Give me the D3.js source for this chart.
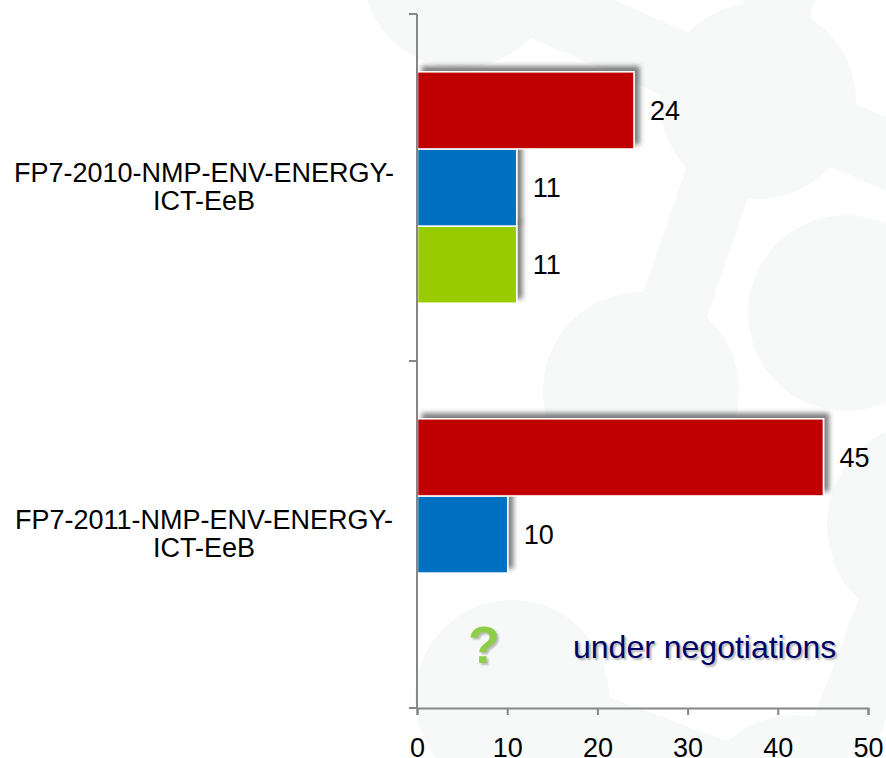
<!DOCTYPE html>
<meta charset="utf-8">
<script src="https://d3js.org/d3.v7.min.js"></script>
<style>
  html, body { margin: 0; padding: 0; background: #fff; }
  svg { display: block; }
  text { font-family: "Liberation Sans", Arial, sans-serif; fill: #000; }
  .tick line, .domain { stroke: #868686; }
</style>
<div id="my_dataviz"></div>
<script>

// dataset
var categories = ["FP7-2010-NMP-ENV-ENERGY-ICT-EeB", "FP7-2011-NMP-ENV-ENERGY-ICT-EeB"];
var categoryLines = [["FP7-2010-NMP-ENV-ENERGY-", "ICT-EeB"], ["FP7-2011-NMP-ENV-ENERGY-", "ICT-EeB"]];
var seriesKeys = ["first", "second", "third"];
var seriesColors = ["#c00000", "#0070c0", "#99cc00"];
var firstValues = [24, 45];
var secondValues = [11, 10];
var thirdValues = [11, null];   // 2011 is still under negotiations
var xTicks = [0, 10, 20, 30, 40, 50];

var width = 886, height = 758;
var margin = {top: 14, right: 17.5, bottom: 50, left: 417.5};

var svg = d3.select("#my_dataviz")
  .append("svg")
    .attr("width", width)
    .attr("height", height);

// faint molecule pattern behind the chart
var bg = svg.append("g");
var blobs = [[460, -30, 98], [758, 101, 98], [846, 313, 98], [641, 390, 98], [512, 697, 97], [930, 525, 103], [795, 815, 100]];
var links = [[460, -30, 758, 100], [758, 100, 920, 168], [646, 390, 790, -30], [512, 697, 795, 803], [923, 525, 813, 815]];
bg.selectAll("circle").data(blobs).enter().append("circle")
    .attr("cx", function(d) { return d[0]; })
    .attr("cy", function(d) { return d[1]; })
    .attr("r", function(d) { return d[2]; })
    .attr("fill", "#f7f9f9");
bg.selectAll("line").data(links).enter().append("line")
    .attr("x1", function(d) { return d[0]; })
    .attr("y1", function(d) { return d[1]; })
    .attr("x2", function(d) { return d[2]; })
    .attr("y2", function(d) { return d[3]; })
    .attr("stroke", "#f7f9f9")
    .attr("stroke-width", 68);

// bar shadow
var filter = svg.append("defs").append("filter")
    .attr("id", "barShadow")
    .attr("x", "-20%").attr("y", "-20%")
    .attr("width", "140%").attr("height", "140%");
filter.append("feDropShadow")
    .attr("dx", 5).attr("dy", -5)
    .attr("stdDeviation", 2.5)
    .attr("flood-color", "#000")
    .attr("flood-opacity", 0.5);

// scales
var x = d3.scaleLinear()
  .domain([0, 50])
  .range([margin.left, width - margin.right]);

var y0 = d3.scaleBand()
  .domain(categories)
  .range([margin.top, height - margin.bottom]);

var y1 = d3.scaleBand()
  .domain(seriesKeys)
  .range([0, y0.bandwidth()])
  .paddingOuter(0.75)
  .paddingInner(0);

// flatten the arrays for drawing
var rows = [];
categories.forEach(function(c, i) {
  rows.push({cat: c, key: "first", color: seriesColors[0], value: firstValues[i]});
  rows.push({cat: c, key: "second", color: seriesColors[1], value: secondValues[i]});
  rows.push({cat: c, key: "third", color: seriesColors[2], value: thirdValues[i]});
});
rows = rows.filter(function(d) { return d.value !== null; });

// bars, bottom one first so the shadow never falls on the bar above
svg.append("g").selectAll("rect")
  .data(rows.slice().reverse())
  .enter()
  .append("rect")
    .attr("x", x(0))
    .attr("y", function(d) { return y0(d.cat) + y1(d.key); })
    .attr("width", function(d) { return x(d.value) - x(0); })
    .attr("height", y1.bandwidth())
    .attr("fill", function(d) { return d.color; })
    .attr("stroke", "#fff")
    .attr("stroke-width", 1.5)
    .attr("filter", "url(#barShadow)");

// value labels
svg.append("g").selectAll("text")
  .data(rows)
  .enter()
  .append("text")
    .attr("x", function(d) { return x(d.value) + 16; })
    .attr("y", function(d) { return y0(d.cat) + y1(d.key) + y1.bandwidth() / 2; })
    .attr("dy", "0.35em")
    .style("font-size", "27px")
    .text(function(d) { return d.value; });

// X axis
var xAxis = svg.append("g")
  .attr("transform", "translate(-0.5," + (height - margin.bottom) + ")")
  .call(d3.axisBottom(x).tickValues(xTicks).tickSizeOuter(0).tickSize(7).tickPadding(23));
xAxis.selectAll("text").style("font-size", "27px");
xAxis.selectAll("line").attr("stroke-width", 2);
xAxis.select(".domain").attr("stroke-width", 2);

// Y axis, ticks sit between the categories
var yEdges = [margin.top, margin.top + y0.bandwidth(), height - margin.bottom];
var yAxisG = svg.append("g").attr("transform", "translate(" + (x(0) - 0.5) + ",0)");
yAxisG.append("line")
    .attr("class", "domain")
    .attr("y1", margin.top).attr("y2", height - margin.bottom)
    .attr("stroke-width", 2);
yAxisG.selectAll(".edge").data(yEdges).enter().append("line")
    .attr("class", "domain edge")
    .attr("x1", -8).attr("x2", 0)
    .attr("y1", function(d) { return d; })
    .attr("y2", function(d) { return d; })
    .attr("stroke-width", 2);

// category labels on two lines
var catLabels = svg.append("g").selectAll("text")
  .data(categories)
  .enter()
  .append("text")
    .attr("text-anchor", "middle")
    .style("font-size", "27px")
    .attr("y", function(d) { return y0(d) + y0.bandwidth() / 2 - 6; });
catLabels.selectAll("tspan")
  .data(function(d, i) { return categoryLines[i]; })
  .enter()
  .append("tspan")
    .attr("x", 204)
    .attr("dy", function(d, i) { return i ? "1.07em" : 0; })
    .text(function(d) { return d; });

// annotation for the empty slot
svg.append("text")
    .attr("x", 484).attr("y", 663)
    .attr("text-anchor", "middle")
    .style("font-size", "52px")
    .style("font-weight", "bold")
    .style("fill", "#8fcc4a")
    .style("text-shadow", "2px 2px 2px rgba(0,0,0,0.25)")
    .text("?");
svg.append("text")
    .attr("x", 573).attr("y", 658)
    .style("font-size", "32px")
    .style("fill", "#000066")
    .style("text-shadow", "2px 2px 2px rgba(0,0,0,0.3)")
    .text("under negotiations");

</script>
